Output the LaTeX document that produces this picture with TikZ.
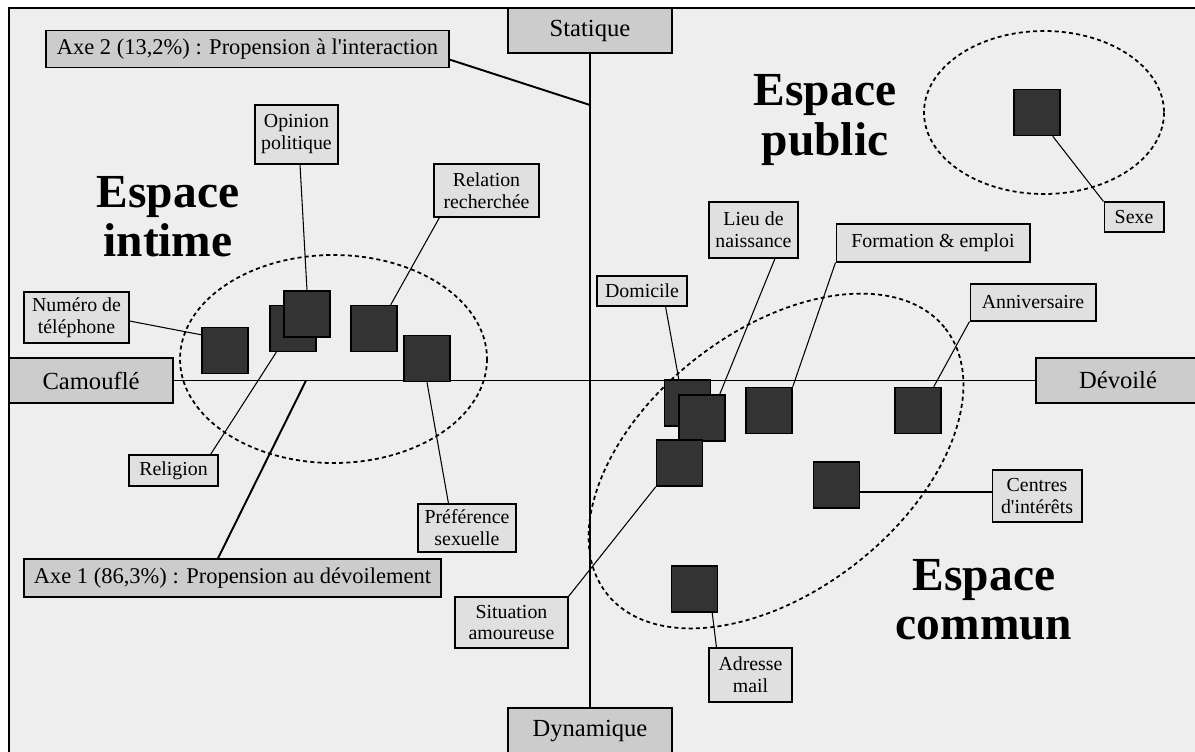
\documentclass[tikz,border=0pt]{standalone}
\usepackage{fontspec}
\setmainfont{Liberation Serif}
\usetikzlibrary{calc,positioning}
\definecolor{fond}{HTML}{EEEEEE}
\definecolor{boite}{HTML}{E0E0E0}
\definecolor{pole}{HTML}{CCCCCC}
\definecolor{plein}{HTML}{333333}
\begin{document}
\begin{tikzpicture}[x=0.02cm,y=-0.02cm,
  taille/.style 2 args={minimum width=#1cm,minimum height=#2cm},
  etiq/.style={draw,line width=0.6pt,fill=boite,inner sep=0pt,align=center,font=\fontsize{11.3}{12.5}\selectfont},
  bout/.style={draw,line width=1.1pt,fill=pole,inner sep=0pt,font=\fontsize{14}{16}\selectfont},
  titreaxe/.style={draw,line width=0.8pt,fill=pole,inner sep=0pt,font=\fontsize{12.8}{14}\selectfont},
  carre/.style={draw,line width=0.8pt,fill=plein,minimum size=0.92cm,inner sep=0pt},
  zone/.style={align=center,font=\fontsize{27}{28}\selectfont\bfseries},
  grp/.style={line width=1pt,dash pattern=on 2.3pt off 1.8pt},
  lien/.style={line width=0.6pt},
  axeline/.style={line width=1.1pt}]
\useasboundingbox (0,0) rectangle (1195,751);
\draw[line width=0.9pt,fill=fond] (9,8) rectangle (1205,760);

% groupes
\draw[grp] (333.5,359) ellipse [x radius=153.5,y radius=104];
\draw[grp] (1044,112.5) ellipse [x radius=120,y radius=81.5];
\draw[grp,rotate around={38:(776,461)}] (776,461) ellipse [x radius=215,y radius=130];

% axes
\node[bout,taille={3.28}{0.9}] (stat) at (590,30.5) {Statique};
\node[bout,taille={3.28}{0.9}] (dyn) at (590,730.5) {Dynamique};
\node[bout,taille={3.28}{0.9}] (cam) at (91,380.5) {Camouflé};
\node[bout,taille={3.28}{0.9}] (dev) at (1118,380.5) {Dévoilé};
\draw[axeline] (stat) -- (dyn);
\draw[axeline] (cam) -- (dev);

\node[titreaxe,taille={8.06}{0.74}] (ax2) at (247.5,49) {Axe 2 (13,2\%) : Propension à l\textquotesingle interaction};
\node[titreaxe,taille={8.34}{0.76}] (ax1) at (232.5,578) {Axe 1 (86,3\%) : Propension au dévoilement};
\coordinate (p2) at (stat.south |- 0,105);
\coordinate (p1) at (306,0 |- cam);
\draw[axeline] (ax2.-3) -- (p2);
\draw[axeline] (p1) -- ($(ax1.north)+(-14.5,0)$);

% zones
\node[zone] (zIn) at (168,217) {Espace\\intime};
\node[zone] (zPub) at (825,120) {Espace\\public};
\node[zone] (zCom) at (984,600) {Espace\\commun};

% items
\node[carre] (sNum) at (225,350.5) {};
\node[carre] (sRel) at (293,328.5) {};
\node[carre] (sOp) at (307,314) {};
\node[carre] (sRc) at (374,328.5) {};
\node[carre] (sPr) at (427,358.5) {};
\node[carre] (sDom) at (687.5,403) {};
\node[carre] (sLieu) at (702,418) {};
\node[carre] (sSit) at (679.5,463) {};
\node[carre] (sForm) at (769,410.5) {};
\node[carre] (sAnn) at (918,410.5) {};
\node[carre] (sCen) at (836.5,485) {};
\node[carre] (sAdr) at (694.5,589) {};
\node[carre] (sSex) at (1037,112.5) {};

% etiquettes
\node[etiq,taille={1.66}{1.18}] (lOp) at (296.5,134.5) {Opinion\\politique};
\node[etiq,taille={2.1}{1.06}] (lRc) at (486.5,190.5) {Relation\\recherchée};
\node[etiq,taille={2.1}{1.02}] (lNum) at (76.5,317.5) {Numéro de\\téléphone};
\node[etiq,taille={1.78}{0.62}] (lRel) at (173.5,470.5) {Religion};
\node[etiq,taille={1.96}{0.96}] (lPr) at (467,528) {Préférence\\sexuelle};
\node[etiq,taille={2.26}{1.02}] (lSit) at (511.5,622.5) {Situation\\amoureuse};
\node[etiq,taille={1.8}{0.6}] (lDom) at (642,291) {Domicile};
\node[etiq,taille={1.78}{1.12}] (lLieu) at (753.5,230) {Lieu de\\naissance};
\node[etiq,taille={3.88}{0.76}] (lForm) at (933,243) {Formation \& emploi};
\node[etiq,taille={2.52}{0.74}] (lAnn) at (1033,302.5) {Anniversaire};
\node[etiq,taille={1.8}{1.04}] (lCen) at (1037,496) {Centres\\d\textquotesingle intérêts};
\node[etiq,taille={1.66}{1.08}] (lAdr) at (750.5,675) {Adresse\\mail};
\node[etiq,taille={1.2}{0.6}] (lSex) at (1134,217) {Sexe};

% liens
\draw[lien] ($(lNum.east)+(0,3.5)$) -- ($(sNum.north west)+(0,8)$);
\draw[lien] ($(sRel.south west)+(7,0)$) -- ($(lRel.north east)+(-8,0)$);
\draw[lien] ($(lOp.south)+(3.5,0)$) -- (sOp.north);
\draw[lien] ($(lRc.south west)+(6,0)$) -- ($(sRc.north east)+(-7,0)$);
\draw[lien] (sPr.south) -- ($(lPr.north west)+(31,0)$);
\draw[lien] ($(lDom.south east)+(-22,0)$) -- ($(sDom.north west)+(15,0)$);
\draw[lien] ($(lLieu.south)+(21.5,0)$) -- ($(sLieu.north east)+(-6,0)$);
\draw[lien] (lForm.south west) -- (sForm.north east);
\draw[lien] (lAnn.south west) -- ($(sAnn.north east)+(-8,0)$);
\draw[lien] ($(sCen.east)+(0,7)$) -- ($(lCen.west)+(0,-4)$);
\draw[lien] ($(sAdr.south east)+(-6,0)$) -- ($(lAdr.north west)+(8,0)$);
\draw[lien] (sSit.south west) -- (lSit.north east);
\draw[lien] ($(sSex.south east)+(-8,0)$) -- (lSex.north west);
\end{tikzpicture}
\end{document}
